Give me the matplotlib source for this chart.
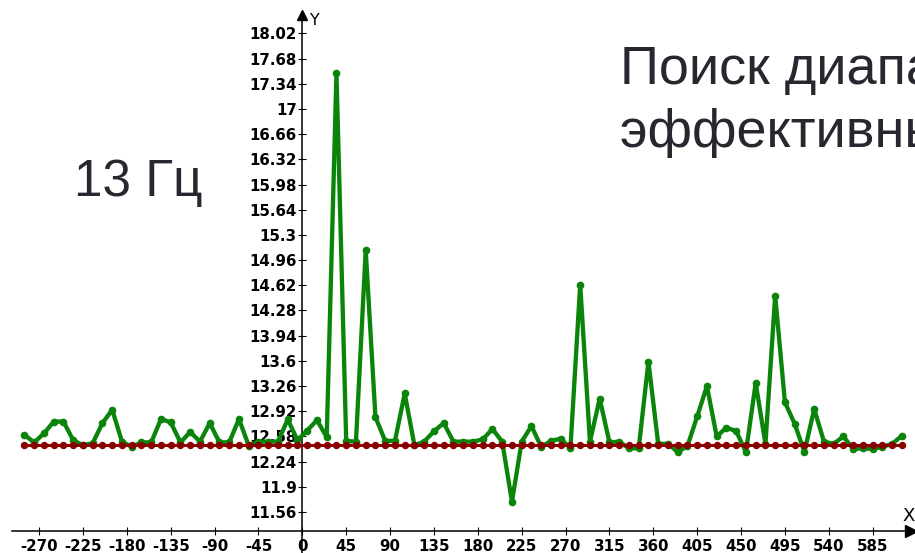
import numpy as np
import matplotlib.pyplot as plt

plt.rcParams['axes.unicode_minus'] = False

# sample positions and measured values
x_vals = list(range(-285, 616, 10))
green_vals = [12.60, 12.50, 12.62, 12.78, 12.78, 12.53, 12.46, 12.49, 12.76, 12.94,
              12.51, 12.44, 12.50, 12.50, 12.815, 12.77, 12.50, 12.64, 12.51, 12.76,
              12.50, 12.50, 12.815, 12.455, 12.51, 12.51, 12.51, 12.81, 12.53,
              12.66, 12.80, 12.57, 17.48, 12.52, 12.51, 15.09, 12.84, 12.52, 12.52,
              13.16, 12.46, 12.51, 12.65, 12.76, 12.51, 12.51, 12.51, 12.54, 12.68,
              12.51, 11.70, 12.51, 12.72, 12.44, 12.52, 12.55, 12.42, 14.63, 12.51,
              13.09, 12.50, 12.51, 12.42, 12.42, 13.59, 12.48, 12.48, 12.37, 12.45,
              12.85, 13.26, 12.58, 12.70, 12.65, 12.37, 13.30, 12.48, 14.48, 13.04,
              12.75, 12.37, 12.95, 12.51, 12.48, 12.58, 12.41, 12.42, 12.41, 12.44,
              12.48, 12.59]
red_level = 12.47
red_vals = [red_level] * len(x_vals)

x_ticks = [-270, -225, -180, -135, -90, -45, 0, 45, 90, 135, 180, 225, 270,
           315, 360, 405, 450, 495, 540, 585]
y_ticks = [11.56, 11.9, 12.24, 12.58, 12.92, 13.26, 13.6, 13.94, 14.28, 14.62,
           14.96, 15.3, 15.64, 15.98, 16.32, 16.66, 17, 17.34, 17.68, 18.02]
y_tick_labels = ['11.56', '11.9', '12.24', '12.58', '12.92', '13.26', '13.6', '13.94',
                 '14.28', '14.62', '14.96', '15.3', '15.64', '15.98', '16.32', '16.66',
                 '17', '17.34', '17.68', '18.02']
x_axis_level = 11.31

fig = plt.figure(figsize=(9.15, 5.53), dpi=100)
ax = fig.add_axes([0, 0, 1, 1])
ax.set_xlim(-310.1, 628.4)
ax.set_ylim(11.007, 18.47)

ax.plot(x_vals, green_vals, color='#0b840b', lw=3.1, marker='o', ms=4.5,
        solid_joinstyle='round', zorder=3)
ax.plot(x_vals, red_vals, color='#8a0000', lw=2.2, marker='o', ms=4.3, zorder=4)

for s in ['top', 'right']:
    ax.spines[s].set_visible(False)
ax.spines['left'].set_position(('data', 0))
ax.spines['bottom'].set_position(('data', x_axis_level))
ax.spines['left'].set_bounds(11.0, 18.25)
ax.spines['bottom'].set_bounds(-298, 622)
ax.spines['left'].set_linewidth(1.1)
ax.spines['bottom'].set_linewidth(1.1)

ax.set_xticks(x_ticks)
ax.set_yticks(y_ticks)
ax.set_yticklabels(y_tick_labels)
ax.tick_params(direction='inout', length=6, width=0.8, labelsize=10.8)
ax.tick_params(axis='x', pad=3)
ax.tick_params(axis='y', pad=1)
for lab in ax.get_xticklabels() + ax.get_yticklabels():
    lab.set_fontweight('bold')
    lab.set_family('DejaVu Sans')

# axis arrows and names
ax.plot(624, x_axis_level, marker='>', color='black', ms=8, clip_on=False)
ax.plot(0, 18.27, marker='^', color='black', ms=7, clip_on=False)
ax.text(8, 18.2, 'Y', fontsize=11.5, va='center', ha='left')
ax.text(616, 11.5, 'X', fontsize=13, va='center', ha='left')

txt_color = '#272730'
fig.text(74 / 915, 1 - 196 / 553, '13 Гц', fontsize=37, family='Liberation Sans',
         color=txt_color, va='baseline', ha='left')
fig.text(620 / 915, 1 - 84 / 553, 'Поиск диапазона', fontsize=39,
         family='Liberation Sans', color=txt_color, va='baseline', ha='left')
fig.text(620 / 915, 1 - 147 / 553, 'эффективных частот', fontsize=39,
         family='Liberation Sans', color=txt_color, va='baseline', ha='left')

fig.savefig('out.png', dpi=100)
